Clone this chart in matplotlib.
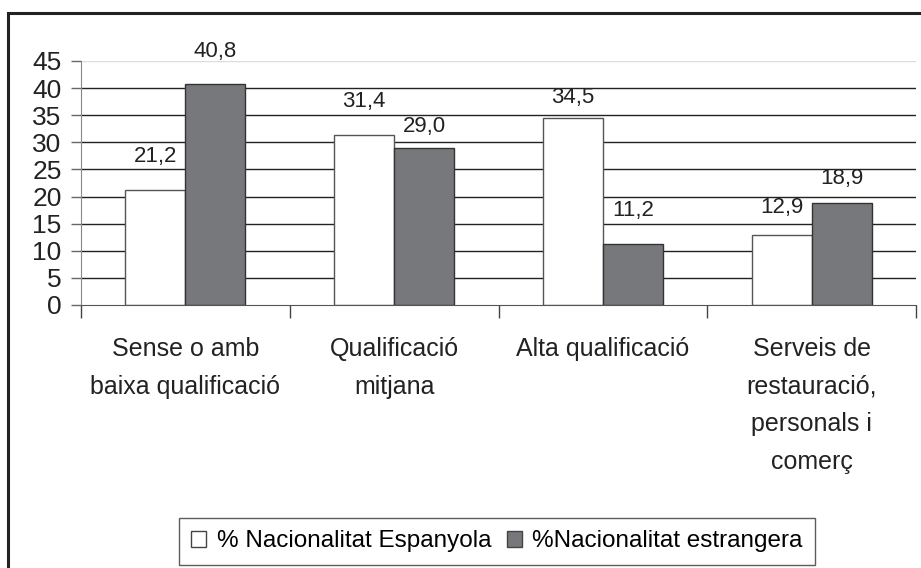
import matplotlib

matplotlib.use('Agg')
import matplotlib.pyplot as plt
from matplotlib.patches import Rectangle
import numpy as np

plt.rcParams['font.family'] = ['Liberation Sans', 'DejaVu Sans']

categories = [
    "Sense o amb\nbaixa qualificació",
    "Qualificació\nmitjana",
    "Alta qualificació",
    "Serveis de\nrestauració,\npersonals i\ncomerç",
]
espanyola = [21.2, 31.4, 34.5, 12.9]
estrangera = [40.8, 29.0, 11.2, 18.9]
series_names = ["% Nacionalitat Espanyola", "%Nacionalitat estrangera"]
y_ticks = list(range(0, 50, 5))

# label gap above each bar, in points (espanyola, estrangera)
gap_esp = [16.5, 16.5, 7, 12]
gap_est = [16, 8, 16.5, 9.5]

W, H = 921, 568
fig = plt.figure(figsize=(W / 100, H / 100), dpi=100)
ax = fig.add_axes([81 / W, (H - 305) / H, (916 - 81) / W, (305 - 61) / H])

x = np.arange(len(categories))
bw = 0.2875
dark = "#77787b"

for v in y_ticks[1:-1]:
    ax.axhline(v, color="#222222", lw=1.0, zorder=1)
ax.axhline(y_ticks[-1], color="#dddddd", lw=1.0, zorder=1)

b1 = ax.bar(x - bw / 2, espanyola, bw, color="white", edgecolor="#555555",
            lw=1.0, zorder=2, label=series_names[0])
b2 = ax.bar(x + bw / 2, estrangera, bw, color=dark, edgecolor="#333333",
            lw=1.0, zorder=2, label=series_names[1])

for bars, vals, gaps in [(b1, espanyola, gap_esp), (b2, estrangera, gap_est)]:
    for rect, v, g in zip(bars, vals, gaps):
        ax.annotate(f"{v:.1f}".replace(".", ","),
                    (rect.get_x() + rect.get_width() / 2, v),
                    xytext=(0, g), textcoords="offset points",
                    ha="center", va="bottom", fontsize=16, color="#222222")

ax.set_xlim(-0.5, len(categories) - 0.5)
ax.set_ylim(0, 45)
ax.set_yticks(y_ticks)
ax.set_yticklabels([str(t) for t in y_ticks], fontsize=19, color="#222222")
ax.tick_params(axis="y", length=7, width=1, color="#666666", pad=7)

# category boundaries carry the x tick marks, labels sit at the centres
ax.set_xticks(np.arange(len(categories) + 1) - 0.5)
ax.set_xticklabels([])
ax.tick_params(axis="x", length=9, width=1, color="#444444", direction="out")
ax.set_xticks(x, minor=True)
ax.set_xticklabels(categories, minor=True, fontsize=18, color="#222222",
                   linespacing=1.72, va="top")
ax.tick_params(axis="x", which="minor", length=0, pad=23)

for s in ["top", "right"]:
    ax.spines[s].set_visible(False)
ax.spines["left"].set_color("#888888")
ax.spines["bottom"].set_color("#555555")
ax.spines["bottom"].set_zorder(3)

leg = fig.legend(handles=[b1, b2], loc="center", bbox_to_anchor=(497 / W, 1 - 541.5 / H),
                 ncol=2, fontsize=17.5, frameon=True, fancybox=False,
                 handlelength=0.6, handleheight=0.6, handletextpad=0.45,
                 columnspacing=0.65, borderpad=0.5, borderaxespad=0)
leg.get_frame().set_edgecolor("#333333")
leg.get_frame().set_linewidth(1.0)
for h in leg.legend_handles:
    h.set_edgecolor("#444444")

fig.patches.append(Rectangle((8 / W, -0.05), 1.1, 1 - 13 / H + 0.05,
                             transform=fig.transFigure, fill=False,
                             edgecolor="#222222", lw=2.2, zorder=0))

fig.savefig("out.png", dpi=100)
